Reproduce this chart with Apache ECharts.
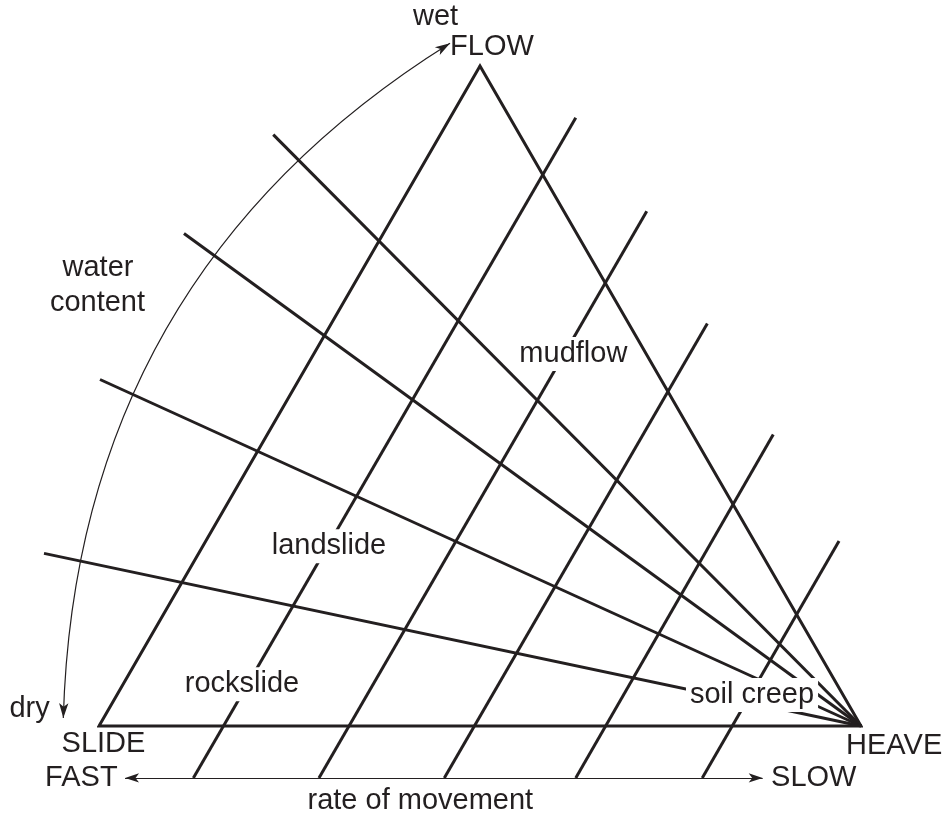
<!DOCTYPE html>
<html>
<head>
<meta charset="utf-8">
<script src="https://cdn.jsdelivr.net/npm/echarts@6/dist/echarts.min.js"></script>
<style>
  html, body { margin: 0; padding: 0; background: #ffffff; }
  #chart { width: 951px; height: 820px; }
</style>
</head>
<body>
<div id="chart"></div>
<script>
// Diagram units: base of the triangle runs from SLIDE (0) to HEAVE (6).
const triangleVertices = [[0, 0], [3, 5.2], [6, 0]];          // SLIDE, FLOW, HEAVE

// rate-of-movement lines (parallel to SLIDE–FLOW edge)
const rateLineBottom = [[0.743, -0.41], [1.732, -0.41], [2.719, -0.41], [3.754, -0.41], [4.750, -0.41]];
const rateLineTop    = [[3.754, 4.793], [4.313, 4.055], [4.790, 3.171], [5.309, 2.297], [5.827, 1.457]];

// water-content lines (radiating from HEAVE)
const waterLineOrigin = [6, 0];
const waterLineEnd = [[1.372, 4.659], [0.669, 3.880], [0.008, 2.730], [-0.433, 1.360]];

// water content arc (dry -> wet) and rate of movement arrow (fast <-> slow)
const waterArrowEnds = [[-0.281, 0.063], [2.764, 5.380]];
const rateArrowEnds = [[0.205, -0.409], [5.226, -0.409]];

const labelTexts = ['wet', 'FLOW', 'water', 'content', 'mudflow', 'landslide', 'rockslide',
  'dry', 'SLIDE', 'FAST', 'rate of movement', 'HEAVE', 'SLOW', 'soil creep'];
const labelAnchors = [[2.650, 5.583], [3.094, 5.346], [-0.008, 3.609], [-0.012, 3.333],
  [3.735, 2.931], [1.811, 1.417], [1.126, 0.328], [-0.547, 0.131], [0.035, -0.139],
  [-0.139, -0.407], [2.530, -0.591], [6.261, -0.157], [5.628, -0.407], [5.142, 0.244]];
const boxedLabels = ['mudflow', 'landslide', 'rockslide', 'soil creep'];

const INK = '#231f20';
const FONT = '"Liberation Sans", Arial, Helvetica, sans-serif';

const trianglePath = triangleVertices.concat([triangleVertices[0], triangleVertices[1]]);

const chart = echarts.init(document.getElementById('chart'), null, { renderer: 'canvas' });
chart.setOption({
  animation: false,
  backgroundColor: '#ffffff',
  grid: { left: 99, top: 66, width: 762, height: 660 },
  xAxis: { type: 'value', min: 0, max: 6, show: false },
  yAxis: { type: 'value', min: 0, max: 5.2, show: false },
  series: [
    {
      type: 'line', data: trianglePath, symbol: 'none', clip: false, z: 3,
      lineStyle: { color: INK, width: 3, join: 'miter', miterLimit: 10 }
    },
    {
      type: 'lines', coordinateSystem: 'cartesian2d', clip: false, z: 2,
      data: rateLineBottom.map((b, i) => ({ coords: [b, rateLineTop[i]] })),
      lineStyle: { color: INK, width: 3, opacity: 1 }
    },
    {
      type: 'lines', coordinateSystem: 'cartesian2d', clip: false, z: 2,
      data: waterLineEnd.map(e => ({ coords: [waterLineOrigin, e] })),
      lineStyle: { color: INK, width: 3, opacity: 1 }
    },
    {
      type: 'lines', coordinateSystem: 'cartesian2d', clip: false, z: 2,
      symbol: ['arrow', 'arrow'], symbolSize: [[7, 15], [7, 15]],
      data: [{ coords: waterArrowEnds }],
      lineStyle: { color: INK, width: 1.2, opacity: 1, curveness: 0.268 }
    },
    {
      type: 'lines', coordinateSystem: 'cartesian2d', clip: false, z: 2,
      symbol: ['arrow', 'arrow'], symbolSize: [[7, 14], [7, 14]],
      data: [{ coords: rateArrowEnds }],
      lineStyle: { color: INK, width: 1.2, opacity: 1 }
    },
    {
      type: 'scatter', clip: false, z: 10, symbolSize: 0, silent: true,
      itemStyle: { opacity: 1 },
      data: labelTexts.map((t, i) => {
        const item = { name: t, value: labelAnchors[i] };
        if (boxedLabels.includes(t)) {
          item.label = { backgroundColor: '#ffffff', padding: [3, 4, 2, 4] };
        }
        return item;
      }),
      label: {
        show: true, position: 'inside', formatter: '{b}', opacity: 1,
        color: INK, fontSize: 29, fontFamily: FONT, lineHeight: 29,
        align: 'center', verticalAlign: 'middle'
      }
    }
  ]
});
</script>
</body>
</html>
